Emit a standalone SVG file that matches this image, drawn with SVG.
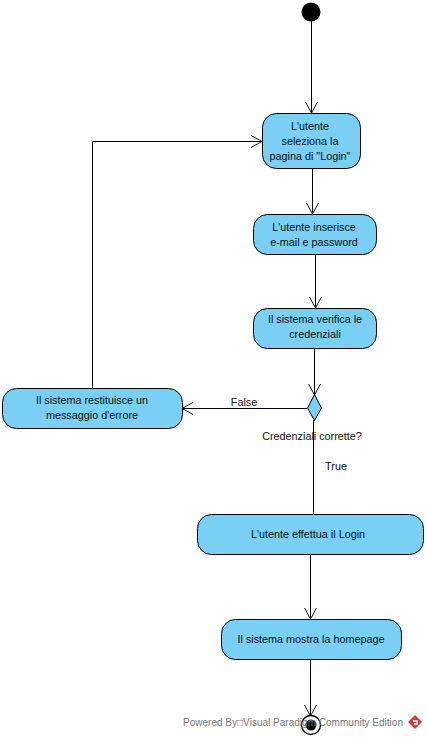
<svg xmlns="http://www.w3.org/2000/svg" width="427" height="739" viewBox="0 0 427 739">
<defs>
<marker id="arr" markerUnits="userSpaceOnUse" markerWidth="14" markerHeight="14" refX="12.5" refY="7" orient="auto" overflow="visible"><path d="M1.5 1 L12.5 7 L1.5 13" fill="none" stroke="#111" stroke-width="1"/></marker>
</defs>
<style>
.n{fill:#7acff5;stroke:#000;stroke-width:1}
.c{fill:none;stroke:#000;stroke-width:1;marker-end:url(#arr)}
.l{fill:none;stroke:#000;stroke-width:1}
text{font-family:"Liberation Sans",Arial,sans-serif;font-size:10.800px;fill:#111;text-anchor:middle}
.w{font-size:10px;fill:#777;text-anchor:start}
</style>
<rect width="427" height="739" fill="#fff"/>
<g id="connectors">
<path class="c" d="M311.500 21V113"/>
<path class="c" d="M92.500 388V141.500H262"/>
<path class="c" d="M312.500 169V214"/>
<path class="c" d="M315.500 255V308"/>
<path class="c" d="M314.500 349V395"/>
<path class="c" d="M307 408.500H182"/>
<path class="l" d="M313.500 420V514"/>
<path class="c" d="M310.500 555V619"/>
<path class="c" d="M310.500 660V716"/>
</g>
<g id="start"><circle cx="311" cy="12" r="9.500" fill="#000"/></g>
<g id="a1"><rect class="n" x="262.500" y="113.500" width="98" height="55" rx="14"/><text x="310" y="130">L'utente</text><text x="310" y="145">seleziona la</text><text x="310" y="160">pagina di "Login"</text></g>
<g id="a2"><rect class="n" x="253.500" y="214.500" width="123" height="40" rx="14"/><text x="314" y="231">L'utente inserisce</text><text x="314" y="246">e-mail e password</text></g>
<g id="a3"><rect class="n" x="253.500" y="308.500" width="123" height="40" rx="14"/><text x="315" y="323">Il sistema verifica le</text><text x="315" y="338">credenziali</text></g>
<g id="decision"><polygon class="n" points="314.500,394.500 321.500,408 314.500,420.500 307.500,408"/><text x="312" y="440">Credenziali corrette?</text></g>
<g id="a4"><rect class="n" x="2.500" y="388.500" width="180" height="40" rx="14"/><text x="92" y="404">Il sistema restituisce un</text><text x="92" y="419">messaggio d'errore</text></g>
<g id="a5"><rect class="n" x="197.500" y="514.500" width="226" height="40" rx="14"/><text x="308" y="538">L'utente effettua il Login</text></g>
<g id="a6"><rect class="n" x="221.500" y="619.500" width="180" height="40" rx="14"/><text x="311" y="643">Il sistema mostra la homepage</text></g>
<g id="end"><circle cx="311" cy="725" r="9.500" fill="#fff" stroke="#000" stroke-width="1.300"/><circle cx="311" cy="725" r="5.500" fill="#000"/></g>
<g id="labels"><text x="244" y="406">False</text><text x="336" y="470">True</text></g>
<g id="watermark"><text class="w" x="183" y="726" textLength="220" lengthAdjust="spacing">Powered By□Visual Paradigm Community Edition</text><polygon points="415,715 422,722 415,729 408,722" fill="#c9403f"/><path d="M413 721h4v3h-3" fill="none" stroke="#fff" stroke-width="1.500"/></g>
</svg>
